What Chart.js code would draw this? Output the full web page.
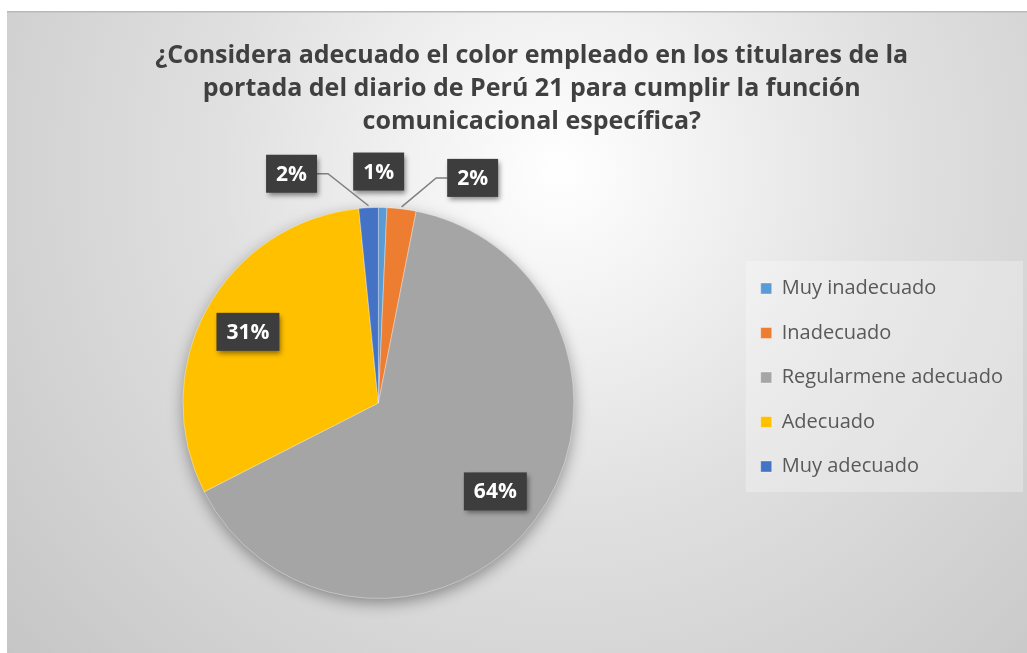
<!DOCTYPE html>
<html>
<head>
<meta charset="utf-8">
<script src="https://cdn.jsdelivr.net/npm/chart.js@4"></script>
<style>
  html, body { margin: 0; padding: 0; background: #fff; }
  #wrap { position: relative; width: 1027px; height: 653px; }
</style>
</head>
<body>
<div id="wrap"><canvas id="chart" width="1027" height="653"></canvas></div>
<script>
// --- Datos ---
const titleLines = [
  '¿Considera adecuado el color empleado en los titulares de la',
  'portada del diario de Perú 21 para cumplir la función',
  'comunicacional específica?'
];
const categories = ['Muy inadecuado', 'Inadecuado', 'Regularmene adecuado', 'Adecuado', 'Muy adecuado'];
const shares = [0.7, 2.4, 64.4, 30.9, 1.6];
const sliceColors = ['#5B9BD5', '#ED7D31', '#A5A5A5', '#FFC000', '#4472C4'];

// where each data label goes (inside at a radius fraction, or outside with an offset)
const labelPlacement = [
  { mode: 'outside', dx: -4, dy: -36 },
  { mode: 'outside', dx: 71, dy: -31, leader: 'left' },
  { mode: 'inside', r: 0.75 },
  { mode: 'inside', r: 0.76 },
  { mode: 'outside', dx: -77, dy: -34, leader: 'right' }
];

const titleFont = "'Open Sans', sans-serif";
const bodyFont = "'Open Sans', sans-serif";

// background: white page, grey radial frame, lighter box behind the legend
const backgroundPlugin = {
  id: 'fondo',
  afterLayout(chart) {
    // the title in the original sits a little right of the canvas centre
    if (chart.titleBlock) chart.titleBlock.left += 30;
  },
  beforeDraw(chart) {
    const ctx = chart.ctx;
    const w = chart.width, h = chart.height;
    ctx.save();
    ctx.fillStyle = '#ffffff';
    ctx.fillRect(0, 0, w, h);
    const g = ctx.createRadialGradient(560, 170, 0, 560, 170, 760);
    g.addColorStop(0, '#ffffff');
    g.addColorStop(0.45, '#e0e0e0');
    g.addColorStop(1, '#c4c4c4');
    ctx.fillStyle = g;
    ctx.fillRect(7, 11, w - 7, h - 11);
    ctx.fillStyle = '#b9b9b9';
    ctx.fillRect(7, 11, w - 7, 1.5);

    const boxes = chart.legend && chart.legend.legendHitBoxes;
    if (boxes && boxes.length) {
      const first = boxes[0], last = boxes[boxes.length - 1];
      const top = first.top - 17.5;
      const bottom = last.top + last.height + 15.5;
      const left = first.left - 15;
      ctx.fillStyle = 'rgba(255,255,255,0.28)';
      ctx.fillRect(left, top, w - 4 - left, bottom - top);
    }
    ctx.restore();
  }
};

// soft shadow under the whole pie
const pieShadowPlugin = {
  id: 'sombraPie',
  beforeDatasetsDraw(chart) {
    const arc = chart.getDatasetMeta(0).data[0];
    if (!arc) return;
    const { x, y, outerRadius } = arc.getProps(['x', 'y', 'outerRadius'], true);
    const ctx = chart.ctx;
    ctx.save();
    ctx.shadowColor = 'rgba(0,0,0,0.4)';
    ctx.shadowBlur = 16;
    ctx.shadowOffsetY = 5;
    ctx.fillStyle = '#a5a5a5';
    ctx.beginPath();
    ctx.arc(x, y, outerRadius - 1, 0, Math.PI * 2);
    ctx.fill();
    ctx.restore();
  }
};

// dark boxed percentage labels with leader lines for the thin slices
const boxLabelPlugin = {
  id: 'etiquetas',
  afterDatasetsDraw(chart) {
    const ctx = chart.ctx;
    const meta = chart.getDatasetMeta(0);
    const values = chart.data.datasets[0].data;
    ctx.save();
    ctx.font = 'bold 21px ' + bodyFont;
    ctx.textAlign = 'center';
    ctx.textBaseline = 'middle';
    meta.data.forEach((arc, i) => {
      const p = arc.getProps(['x', 'y', 'startAngle', 'endAngle', 'outerRadius'], true);
      const mid = (p.startAngle + p.endAngle) / 2;
      const place = labelPlacement[i];
      const text = Math.round(values[i]) + '%';
      const tw = ctx.measureText(text).width;
      const bw = tw + 20, bh = 38;
      let cx, cy;
      const ax = p.x + Math.cos(mid) * p.outerRadius;
      const ay = p.y + Math.sin(mid) * p.outerRadius;
      if (place.mode === 'inside') {
        cx = p.x + Math.cos(mid) * p.outerRadius * place.r;
        cy = p.y + Math.sin(mid) * p.outerRadius * place.r;
      } else {
        cx = ax + place.dx;
        cy = ay + place.dy;
      }
      if (place.leader) {
        const side = place.leader === 'right' ? 1 : -1;
        const bx = cx + side * bw / 2;
        ctx.strokeStyle = '#7f7f7f';
        ctx.lineWidth = 1.5;
        ctx.beginPath();
        ctx.moveTo(bx, cy);
        ctx.lineTo(bx + side * 11, cy);
        ctx.lineTo(ax, ay - 2);
        ctx.stroke();
      }
      ctx.save();
      ctx.shadowColor = 'rgba(0,0,0,0.45)';
      ctx.shadowBlur = 5;
      ctx.shadowOffsetX = 2;
      ctx.shadowOffsetY = 3;
      ctx.fillStyle = '#3d3d3d';
      ctx.fillRect(cx - bw / 2, cy - bh / 2, bw, bh);
      ctx.restore();
      ctx.fillStyle = '#ffffff';
      ctx.fillText(text, cx, cy + 1);
    });
    ctx.restore();
  }
};

new Chart(document.getElementById('chart'), {
  type: 'pie',
  data: {
    labels: categories,
    datasets: [{
      data: shares,
      backgroundColor: sliceColors,
      borderWidth: 1,
      borderColor: 'rgba(255,255,255,0.35)',
      clip: false
    }]
  },
  options: {
    responsive: false,
    animation: false,
    layout: { padding: { left: 20.5, right: 14, top: 0, bottom: 54 } },
    plugins: {
      title: {
        display: true,
        text: titleLines,
        color: '#404040',
        font: { family: titleFont, size: 25, weight: 'bold', lineHeight: 33 / 25 },
        padding: { top: 39.5, bottom: 68.5 }
      },
      legend: {
        position: 'right',
        align: 'start',
        fullSize: false,
        title: { display: true, text: ' ', font: { size: 20 }, padding: { top: 10, bottom: 13 } },
        labels: {
          boxWidth: 11,
          boxHeight: 11,
          padding: 24.5,
          color: '#595959',
          font: { family: bodyFont, size: 20 }
        }
      },
      tooltip: { enabled: false }
    }
  },
  plugins: [backgroundPlugin, pieShadowPlugin, boxLabelPlugin]
});
</script>
</body>
</html>
